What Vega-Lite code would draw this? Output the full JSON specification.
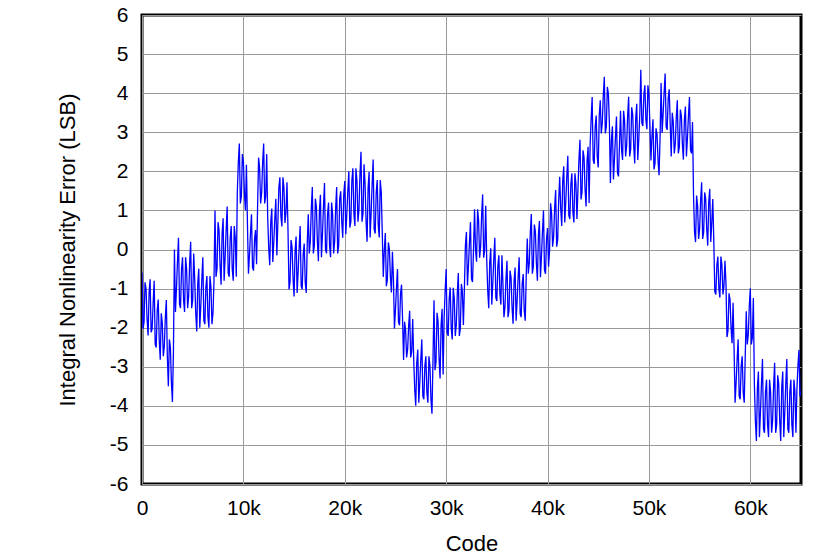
{
  "$schema": "https://vega.github.io/schema/vega-lite/v6.json",
  "width": 659,
  "height": 469,
  "autosize": {"type": "none"},
  "padding": {"left": 142, "top": 15, "right": 38, "bottom": 75},
  "background": "white",
  "config": {
    "view": {"stroke": "black", "strokeWidth": 3},
    "font": "Liberation Sans",
    "axis": {
      "labelFont": "Liberation Sans",
      "titleFont": "Liberation Sans",
      "labelFontSize": 21,
      "titleFontSize": 22,
      "labelColor": "black",
      "titleColor": "black",
      "titleFontWeight": "normal",
      "gridColor": "#999999",
      "gridWidth": 1,
      "gridOpacity": 1,
      "ticks": false,
      "domain": false
    }
  },
  "data": {"values": [
    {"x":0,"y":-0.59},{"x":200,"y":-1.86},{"x":400,"y":-1.01},{"x":600,"y":-2.2},{"x":800,"y":-0.76},
    {"x":1000,"y":-2.04},{"x":1200,"y":-0.8},{"x":1400,"y":-2.51},{"x":1600,"y":-1.28},
    {"x":1800,"y":-2.82},{"x":2000,"y":-1.88},{"x":2200,"y":-2.48},{"x":2400,"y":-1.29},
    {"x":2600,"y":-3.5},{"x":2800,"y":-2.5},{"x":3000,"y":-3.9},
    {"x":3200,"y":0.0},{"x":3400,"y":-1.0},{"x":3600,"y":0.3},{"x":3800,"y":-1.5},{"x":4000,"y":-0.2},{"x":4200,"y":-1.6},{"x":4400,"y":-0.5},{"x":4600,"y":-1.2},{"x":4800,"y":0.2},{"x":5000,"y":-1.3},
    {"x":5200,"y":-0.77},{"x":5400,"y":-2.1},{"x":5600,"y":-0.49},{"x":5800,"y":-1.44},{"x":6000,"y":-0.2},{"x":6200,"y":-1.91},{"x":6400,"y":-0.68},{"x":6600,"y":-2.0},{"x":6800,"y":-0.96},{"x":7000,"y":-1.63},
    {"x":7200,"y":1.0},{"x":7400,"y":-0.5},{"x":7600,"y":0.5},{"x":7800,"y":-0.9},{"x":8000,"y":0.8},{"x":8200,"y":-0.2},{"x":8400,"y":1.1},{"x":8600,"y":-0.7},{"x":8800,"y":0.6},{"x":9000,"y":-0.8},{"x":9200,"y":0.3},
    {"x":9400,"y":1.45},{"x":9600,"y":2.71},{"x":9800,"y":1.36},{"x":10000,"y":2.26},{"x":10200,"y":1.0},
    {"x":10400,"y":0.66},{"x":10600,"y":-0.14},{"x":10800,"y":0.9},{"x":11000,"y":-0.54},{"x":11200,"y":0.5},
    {"x":11400,"y":1.09},{"x":11600,"y":2.08},{"x":11800,"y":1.45},{"x":12000,"y":2.71},{"x":12200,"y":1.36},
    {"x":12400,"y":0.79},{"x":12600,"y":-0.4},{"x":12800,"y":1.05},{"x":13000,"y":0.2},{"x":13200,"y":1.3},
    {"x":13400,"y":0.68},{"x":13600,"y":1.85},{"x":13800,"y":0.59},{"x":14000,"y":1.58},{"x":14200,"y":0.95},
    {"x":14400,"y":0.51},{"x":14600,"y":-0.84},{"x":14800,"y":0.06},{"x":15000,"y":-1.2},{"x":15200,"y":0.33},{"x":15400,"y":-0.57},{"x":15600,"y":0.6},{"x":15800,"y":-1.02},{"x":16000,"y":0.15},{"x":16200,"y":-1.11},
    {"x":16400,"y":0.9},{"x":16600,"y":0.2},{"x":16800,"y":1.6},{"x":17000,"y":0.1},{"x":17200,"y":1.1},{"x":17400,"y":-0.3},{"x":17600,"y":1.4},{"x":17800,"y":0.4},{"x":18000,"y":1.7},{"x":18200,"y":-0.1},{"x":18400,"y":1.2},{"x":18600,"y":-0.2},{"x":18800,"y":0.9},{"x":19000,"y":0.2},{"x":19200,"y":1.6},{"x":19400,"y":0.1},
    {"x":19600,"y":1.49},{"x":19800,"y":0.3},{"x":20000,"y":1.75},{"x":20200,"y":0.9},{"x":20400,"y":2.0},
    {"x":20600,"y":0.71},{"x":20800,"y":2.08},{"x":21000,"y":0.6},{"x":21200,"y":1.76},{"x":21400,"y":1.03},{"x":21600,"y":2.5},{"x":21800,"y":0.92},
    {"x":22000,"y":1.67},{"x":22200,"y":0.2},{"x":22400,"y":1.99},{"x":22600,"y":0.94},{"x":22800,"y":2.3},{"x":23000,"y":0.41},{"x":23200,"y":1.78},{"x":23400,"y":0.31},{"x":23600,"y":1.46},
    {"x":23800,"y":-0.7},{"x":24000,"y":0.42},{"x":24200,"y":-0.78},{"x":24400,"y":0.02},{"x":24600,"y":-1.1},
    {"x":24800,"y":-0.74},{"x":25000,"y":-1.54},{"x":25200,"y":-0.5},{"x":25400,"y":-1.94},{"x":25600,"y":-0.9},
    {"x":25800,"y":-2.83},{"x":26000,"y":-2.06},{"x":26200,"y":-2.55},{"x":26400,"y":-1.57},{"x":26600,"y":-2.62},
    {"x":26800,"y":-2.81},{"x":27000,"y":-4.0},{"x":27200,"y":-2.56},{"x":27400,"y":-3.41},{"x":27600,"y":-2.3},{"x":27800,"y":-3.83},{"x":28000,"y":-2.73},{"x":28200,"y":-3.92},{"x":28400,"y":-2.98},{"x":28600,"y":-4.2},
    {"x":28800,"y":-1.3},{"x":29000,"y":-2.88},{"x":29200,"y":-1.83},{"x":29400,"y":-3.3},{"x":29600,"y":-1.52},
    {"x":29800,"y":-1.74},{"x":30000,"y":-0.5},{"x":30200,"y":-2.21},{"x":30400,"y":-0.97},{"x":30600,"y":-2.3},{"x":30800,"y":-1.26},{"x":31000,"y":-1.93},{"x":31200,"y":-0.6},{"x":31400,"y":-2.02},{"x":31600,"y":-1.07},
    {"x":31800,"y":-1.0},{"x":32000,"y":0.45},{"x":32200,"y":-0.41},{"x":32400,"y":0.7},{"x":32600,"y":-0.83},
    {"x":32800,"y":1.03},{"x":33000,"y":-0.31},{"x":33200,"y":0.74},{"x":33400,"y":0.08},{"x":33600,"y":1.41},{"x":33800,"y":-0.02},
    {"x":34000,"y":-0.24},{"x":34200,"y":-1.5},{"x":34400,"y":0.03},{"x":34600,"y":-0.87},{"x":34800,"y":0.3},{"x":35000,"y":-1.32},{"x":35200,"y":-0.15},{"x":35400,"y":-1.41},
    {"x":35600,"y":-0.88},{"x":35800,"y":-1.48},{"x":36000,"y":-0.29},{"x":36200,"y":-1.56},{"x":36400,"y":-0.71},{"x":36600,"y":-1.9},{"x":36800,"y":-0.46},{"x":37000,"y":-1.31},{"x":37200,"y":-0.2},{"x":37400,"y":-1.73},{"x":37600,"y":-0.63},{"x":37800,"y":-1.82},
    {"x":38000,"y":0.28},{"x":38200,"y":-0.35},{"x":38400,"y":0.91},{"x":38600,"y":-0.44},{"x":38800,"y":0.46},{"x":39000,"y":-0.8},{"x":39200,"y":0.73},{"x":39400,"y":-0.17},{"x":39600,"y":1.0},{"x":39800,"y":-0.62},{"x":40000,"y":0.55},
    {"x":40200,"y":-0.02},{"x":40400,"y":0.92},{"x":40600,"y":0.33},{"x":40800,"y":1.52},{"x":41000,"y":0.24},
    {"x":41200,"y":1.86},{"x":41400,"y":0.6},{"x":41600,"y":2.13},{"x":41800,"y":1.23},{"x":42000,"y":2.4},{"x":42200,"y":0.78},{"x":42400,"y":1.95},{"x":42600,"y":0.69},{"x":42800,"y":1.68},
    {"x":43000,"y":1.55},{"x":43200,"y":2.81},{"x":43400,"y":1.46},{"x":43600,"y":2.36},{"x":43800,"y":1.1},{"x":44000,"y":2.63},
    {"x":44200,"y":2.67},{"x":44400,"y":3.9},{"x":44600,"y":2.19},{"x":44800,"y":3.43},{"x":45000,"y":2.1},
    {"x":45200,"y":3.82},{"x":45400,"y":3.23},{"x":45600,"y":4.42},{"x":45800,"y":3.14},{"x":46000,"y":3.99},
    {"x":46200,"y":1.7},{"x":46400,"y":3.15},{"x":46600,"y":2.3},{"x":46800,"y":3.4},{"x":47000,"y":1.87},
    {"x":47200,"y":3.55},{"x":47400,"y":2.29},{"x":47600,"y":3.28},{"x":47800,"y":2.65},{"x":48000,"y":3.91},{"x":48200,"y":2.56},{"x":48400,"y":3.46},{"x":48600,"y":2.2},{"x":48800,"y":3.73},{"x":49000,"y":2.83},
    {"x":49200,"y":4.6},{"x":49400,"y":3.16},{"x":49600,"y":4.2},{"x":49800,"y":3.08},{"x":50000,"y":3.96},
    {"x":50200,"y":2.28},{"x":50400,"y":3.33},{"x":50600,"y":2.2},{"x":50800,"y":2.95},{"x":51000,"y":1.9},
    {"x":51200,"y":4.26},{"x":51400,"y":3.46},{"x":51600,"y":4.5},{"x":51800,"y":3.06},{"x":52000,"y":4.1},
    {"x":52200,"y":2.38},{"x":52400,"y":3.26},{"x":52600,"y":2.7},{"x":52800,"y":3.82},{"x":53000,"y":2.62},{"x":53200,"y":3.42},{"x":53400,"y":2.3},{"x":53600,"y":3.66},{"x":53800,"y":2.86},{"x":54000,"y":3.9},{"x":54200,"y":2.46},
    {"x":54400,"y":1.38},{"x":54600,"y":0.19},{"x":54800,"y":1.12},{"x":55000,"y":0.53},{"x":55200,"y":1.72},{"x":55400,"y":0.44},{"x":55600,"y":1.29},{"x":55800,"y":0.1},{"x":56000,"y":1.55},{"x":56200,"y":0.7},
    {"x":56400,"y":0.2},{"x":56600,"y":-1.15},{"x":56800,"y":-0.18},{"x":57000,"y":-1.23},{"x":57200,"y":-0.4},{"x":57400,"y":-0.93},
    {"x":57600,"y":-0.88},{"x":57800,"y":-2.08},{"x":58000,"y":-1.28},{"x":58200,"y":-2.4},
    {"x":58400,"y":-2.56},{"x":58600,"y":-3.41},{"x":58800,"y":-2.3},{"x":59000,"y":-3.83},{"x":59200,"y":-2.73},{"x":59400,"y":-3.92},
    {"x":59600,"y":-1.58},{"x":59800,"y":-2.18},{"x":60000,"y":-0.99},{"x":60200,"y":-2.26},
    {"x":60400,"y":-3.43},{"x":60600,"y":-4.9},{"x":60800,"y":-3.12},{"x":61000,"y":-4.17},{"x":61200,"y":-2.8},{"x":61400,"y":-4.69},{"x":61600,"y":-3.33},{"x":61800,"y":-4.8},{"x":62000,"y":-3.64},{"x":62200,"y":-4.38},{"x":62400,"y":-2.9},{"x":62600,"y":-4.48},{"x":62800,"y":-3.43},{"x":63000,"y":-4.9},{"x":63200,"y":-3.12},{"x":63400,"y":-4.17},{"x":63600,"y":-2.8},{"x":63800,"y":-4.69},{"x":64000,"y":-3.33},{"x":64200,"y":-4.8},{"x":64400,"y":-3.64},
    {"x":64600,"y":-3.55},{"x":64800,"y":-2.57},{"x":65000,"y":-3.62},
    {"x":100,"y":-2.03},{"x":300,"y":-0.84},{"x":500,"y":-1.78},{"x":700,"y":-1.1},{"x":900,"y":-2.12},
    {"x":1100,"y":-1.37},{"x":1300,"y":-2.42},{"x":1500,"y":-1.56},{"x":1700,"y":-2.32},
    {"x":1900,"y":-1.63},{"x":2100,"y":-2.73},{"x":2300,"y":-1.75},{"x":2500,"y":-2.73},
    {"x":2700,"y":-2.3},{"x":2900,"y":-3.4},{"x":3100,"y":-2.6},
    {"x":3300,"y":-1.6},{"x":3500,"y":-0.3},{"x":3700,"y":-1.4},{"x":3900,"y":-0.5},{"x":4100,"y":-1.3},{"x":4300,"y":-0.2},{"x":4500,"y":-1.5},{"x":4700,"y":-0.35},{"x":4900,"y":-1.5},{"x":5100,"y":-0.1},
    {"x":5300,"y":-1.63},{"x":5500,"y":-0.87},{"x":5700,"y":-2.0},{"x":5900,"y":-0.77},{"x":6100,"y":-1.82},{"x":6300,"y":-0.96},{"x":6500,"y":-1.72},{"x":6700,"y":-0.68},{"x":6900,"y":-1.91},{"x":7100,"y":-0.82},
    {"x":7300,"y":-0.7},{"x":7500,"y":0.7},{"x":7700,"y":-0.4},{"x":7900,"y":0.4},{"x":8100,"y":-0.8},{"x":8300,"y":0.5},{"x":8500,"y":-0.6},{"x":8700,"y":0.3},{"x":8900,"y":-0.5},{"x":9100,"y":0.6},{"x":9300,"y":-0.7},
    {"x":9500,"y":2.22},{"x":9700,"y":1.18},{"x":9900,"y":2.44},{"x":10100,"y":1.45},{"x":10300,"y":2.17},
    {"x":10500,"y":-0.62},{"x":10700,"y":0.42},{"x":10900,"y":-0.46},{"x":11100,"y":0.26},{"x":11300,"y":-0.38},
    {"x":11500,"y":2.35},{"x":11700,"y":1.18},{"x":11900,"y":2.22},{"x":12100,"y":1.18},{"x":12300,"y":2.44},
    {"x":12500,"y":0.03},{"x":12700,"y":0.7},{"x":12900,"y":-0.32},{"x":13100,"y":0.79},{"x":13300,"y":-0.15},
    {"x":13500,"y":1.58},{"x":13700,"y":0.86},{"x":13900,"y":1.85},{"x":14100,"y":0.68},{"x":14300,"y":1.72},
    {"x":14500,"y":-1.02},{"x":14700,"y":0.24},{"x":14900,"y":-0.75},{"x":15100,"y":-0.03},{"x":15300,"y":-1.11},{"x":15500,"y":0.06},{"x":15700,"y":-0.93},{"x":15900,"y":-0.12},{"x":16100,"y":-0.84},{"x":16300,"y":0.15},
    {"x":16500,"y":-0.1},{"x":16700,"y":1.05},{"x":16900,"y":-0.1},{"x":17100,"y":1.3},{"x":17300,"y":0.2},{"x":17500,"y":1.0},{"x":17700,"y":-0.2},{"x":17900,"y":1.1},{"x":18100,"y":0.0},{"x":18300,"y":0.9},{"x":18500,"y":0.1},{"x":18700,"y":1.2},{"x":18900,"y":-0.1},{"x":19100,"y":1.05},{"x":19300,"y":-0.1},{"x":19500,"y":1.3},
    {"x":19700,"y":0.73},{"x":19900,"y":1.41},{"x":20100,"y":0.39},{"x":20300,"y":1.49},{"x":20500,"y":0.56},
    {"x":20700,"y":1.76},{"x":20900,"y":0.92},{"x":21100,"y":2.08},{"x":21300,"y":0.71},{"x":21500,"y":1.92},{"x":21700,"y":0.71},{"x":21900,"y":2.18},
    {"x":22100,"y":0.73},{"x":22300,"y":1.57},{"x":22500,"y":0.31},{"x":22700,"y":1.67},{"x":22900,"y":0.52},{"x":23100,"y":1.46},{"x":23300,"y":0.62},{"x":23500,"y":1.78},{"x":23700,"y":0.41},
    {"x":23900,"y":-0.02},{"x":24100,"y":-0.94},{"x":24300,"y":0.18},{"x":24500,"y":-0.7},{"x":24700,"y":-0.06},
    {"x":24900,"y":-2.02},{"x":25100,"y":-0.98},{"x":25300,"y":-1.86},{"x":25500,"y":-1.14},{"x":25700,"y":-1.78},
    {"x":25900,"y":-1.85},{"x":26100,"y":-2.76},{"x":26300,"y":-1.96},{"x":26500,"y":-2.76},{"x":26700,"y":-1.78},
    {"x":26900,"y":-3.58},{"x":27100,"y":-2.9},{"x":27300,"y":-3.92},{"x":27500,"y":-2.81},{"x":27700,"y":-3.75},{"x":27900,"y":-2.98},{"x":28100,"y":-3.66},{"x":28300,"y":-2.73},{"x":28500,"y":-3.83},{"x":28700,"y":-2.85},
    {"x":28900,"y":-3.09},{"x":29100,"y":-1.62},{"x":29300,"y":-2.78},{"x":29500,"y":-1.94},{"x":29700,"y":-3.2},
    {"x":29900,"y":-1.07},{"x":30100,"y":-2.12},{"x":30300,"y":-1.26},{"x":30500,"y":-2.02},{"x":30700,"y":-0.98},{"x":30900,"y":-2.21},{"x":31100,"y":-1.12},{"x":31300,"y":-2.21},{"x":31500,"y":-0.88},{"x":31700,"y":-1.93},
    {"x":31900,"y":0.11},{"x":32100,"y":-0.92},{"x":32300,"y":0.19},{"x":32500,"y":-0.75},{"x":32700,"y":0.02},
    {"x":32900,"y":-0.02},{"x":33100,"y":1.03},{"x":33300,"y":-0.21},{"x":33500,"y":0.88},{"x":33700,"y":-0.21},{"x":33900,"y":1.12},
    {"x":34100,"y":-1.05},{"x":34300,"y":-0.33},{"x":34500,"y":-1.41},{"x":34700,"y":-0.24},{"x":34900,"y":-1.23},{"x":35100,"y":-0.42},{"x":35300,"y":-1.14},{"x":35500,"y":-0.15},
    {"x":35700,"y":-1.73},{"x":35900,"y":-0.75},{"x":36100,"y":-1.73},{"x":36300,"y":-0.54},{"x":36500,"y":-1.48},{"x":36700,"y":-0.8},{"x":36900,"y":-1.82},{"x":37100,"y":-0.71},{"x":37300,"y":-1.65},{"x":37500,"y":-0.88},{"x":37700,"y":-1.56},{"x":37900,"y":-0.63},
    {"x":38100,"y":-0.62},{"x":38300,"y":0.42},{"x":38500,"y":-0.62},{"x":38700,"y":0.64},{"x":38900,"y":-0.35},{"x":39100,"y":0.37},{"x":39300,"y":-0.71},{"x":39500,"y":0.46},{"x":39700,"y":-0.53},{"x":39900,"y":0.28},{"x":40100,"y":-0.44},
    {"x":40300,"y":1.18},{"x":40500,"y":0.07},{"x":40700,"y":1.05},{"x":40900,"y":0.07},{"x":41100,"y":1.26},
    {"x":41300,"y":1.05},{"x":41500,"y":1.77},{"x":41700,"y":0.69},{"x":41900,"y":1.86},{"x":42100,"y":0.87},{"x":42300,"y":1.68},{"x":42500,"y":0.96},{"x":42700,"y":1.95},{"x":42900,"y":0.78},
    {"x":43100,"y":2.32},{"x":43300,"y":1.28},{"x":43500,"y":2.54},{"x":43700,"y":1.55},{"x":43900,"y":2.27},{"x":44100,"y":1.19},
    {"x":44300,"y":3.33},{"x":44500,"y":2.29},{"x":44700,"y":3.14},{"x":44900,"y":2.38},{"x":45100,"y":3.43},
    {"x":45300,"y":2.97},{"x":45500,"y":3.95},{"x":45700,"y":2.97},{"x":45900,"y":4.16},{"x":46100,"y":3.23},
    {"x":46300,"y":2.81},{"x":46500,"y":1.79},{"x":46700,"y":2.89},{"x":46900,"y":1.96},{"x":47100,"y":2.72},
    {"x":47300,"y":2.56},{"x":47500,"y":3.55},{"x":47700,"y":2.38},{"x":47900,"y":3.42},{"x":48100,"y":2.38},{"x":48300,"y":3.64},{"x":48500,"y":2.65},{"x":48700,"y":3.37},{"x":48900,"y":2.29},{"x":49100,"y":3.46},
    {"x":49300,"y":3.24},{"x":49500,"y":3.96},{"x":49700,"y":3.32},{"x":49900,"y":4.2},{"x":50100,"y":3.16},
    {"x":50300,"y":2.91},{"x":50500,"y":2.05},{"x":50700,"y":3.1},{"x":50900,"y":2.28},{"x":51100,"y":2.88},
    {"x":51300,"y":2.98},{"x":51500,"y":4.02},{"x":51700,"y":3.14},{"x":51900,"y":3.86},{"x":52100,"y":3.22},
    {"x":52300,"y":3.5},{"x":52500,"y":2.46},{"x":52700,"y":3.38},{"x":52900,"y":2.46},{"x":53100,"y":3.58},{"x":53300,"y":2.7},{"x":53500,"y":3.34},{"x":53700,"y":2.38},{"x":53900,"y":3.42},{"x":54100,"y":2.54},{"x":54300,"y":3.26},
    {"x":54500,"y":0.44},{"x":54700,"y":1.38},{"x":54900,"y":0.27},{"x":55100,"y":1.25},{"x":55300,"y":0.27},{"x":55500,"y":1.46},{"x":55700,"y":0.53},{"x":55900,"y":1.21},{"x":56100,"y":0.19},{"x":56300,"y":1.29},
    {"x":56500,"y":-1.08},{"x":56700,"y":-0.4},{"x":56900,"y":-1.0},{"x":57100,"y":-0.18},{"x":57300,"y":-1.15},{"x":57500,"y":-0.29},
    {"x":57700,"y":-2.24},{"x":57900,"y":-1.12},{"x":58100,"y":-2.0},{"x":58300,"y":-1.36},
    {"x":58500,"y":-3.92},{"x":58700,"y":-2.81},{"x":58900,"y":-3.75},{"x":59100,"y":-2.98},{"x":59300,"y":-3.66},{"x":59500,"y":-2.73},
    {"x":59700,"y":-2.43},{"x":59900,"y":-1.45},{"x":60100,"y":-2.43},{"x":60300,"y":-1.24},
    {"x":60500,"y":-4.38},{"x":60700,"y":-3.54},{"x":60900,"y":-4.8},{"x":61100,"y":-3.43},{"x":61300,"y":-4.59},{"x":61500,"y":-3.64},{"x":61700,"y":-4.48},{"x":61900,"y":-3.33},{"x":62100,"y":-4.69},{"x":62300,"y":-3.48},{"x":62500,"y":-4.69},{"x":62700,"y":-3.22},{"x":62900,"y":-4.38},{"x":63100,"y":-3.54},{"x":63300,"y":-4.8},{"x":63500,"y":-3.43},{"x":63700,"y":-4.59},{"x":63900,"y":-3.64},{"x":64100,"y":-4.48},{"x":64300,"y":-3.33},{"x":64500,"y":-4.69},
    {"x":64700,"y":-2.96},{"x":64900,"y":-3.76}
  ]},
  "mark": {"type": "line", "color": "#0000ff", "strokeWidth": 1.3, "clip": true},
  "encoding": {
    "x": {
      "field": "x", "type": "quantitative",
      "scale": {"domain": [0, 65000], "nice": false, "zero": false},
      "axis": {
        "title": "Code",
        "values": [0, 10000, 20000, 30000, 40000, 50000, 60000],
        "labelExpr": "datum.value == 0 ? '0' : (datum.value / 1000) + 'k'",
        "labelPadding": 13,
        "titlePadding": 15,
        "labelFlush": false
      }
    },
    "y": {
      "field": "y", "type": "quantitative",
      "scale": {"domain": [-6, 6], "nice": false},
      "axis": {
        "title": "Integral Nonlinearity Error (LSB)",
        "values": [-6, -5, -4, -3, -2, -1, 0, 1, 2, 3, 4, 5, 6],
        "labelExpr": "datum.value + ''",
        "labelPadding": 14,
        "titlePadding": 30
      }
    }
  }
}
